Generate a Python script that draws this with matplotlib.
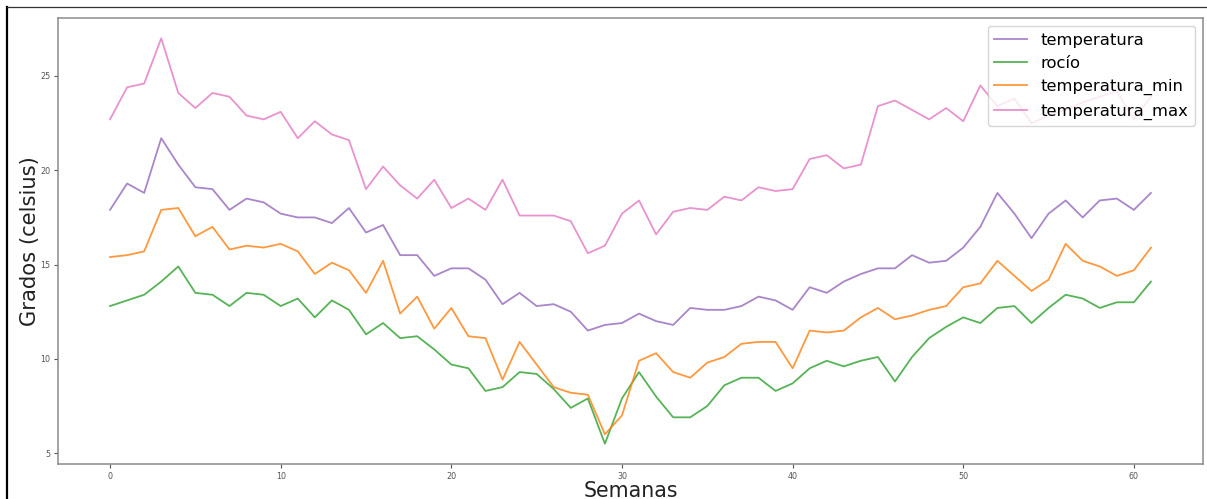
import matplotlib
matplotlib.use("Agg")
import matplotlib.pyplot as plt
from matplotlib.lines import Line2D

# Weekly temperature series (degrees Celsius)
semanas = list(range(62))

temperatura = [17.9, 19.3, 18.8, 21.7, 20.3, 19.1, 19.0, 17.9, 18.5, 18.3,
               17.7, 17.5, 17.5, 17.2, 18.0, 16.7, 17.1, 15.5, 15.5, 14.4,
               14.8, 14.8, 14.2, 12.9, 13.5, 12.8, 12.9, 12.5, 11.5, 11.8,
               11.9, 12.4, 12.0, 11.8, 12.7, 12.6, 12.6, 12.8, 13.3, 13.1,
               12.6, 13.8, 13.5, 14.1, 14.5, 14.8, 14.8, 15.5, 15.1, 15.2,
               15.9, 17.0, 18.8, 17.7, 16.4, 17.7, 18.4, 17.5, 18.4, 18.5,
               17.9, 18.8]

rocio = [12.8, 13.1, 13.4, 14.1, 14.9, 13.5, 13.4, 12.8, 13.5, 13.4,
         12.8, 13.2, 12.2, 13.1, 12.6, 11.3, 11.9, 11.1, 11.2, 10.5,
         9.7, 9.5, 8.3, 8.5, 9.3, 9.2, 8.4, 7.4, 7.9, 5.5,
         7.9, 9.3, 8.0, 6.9, 6.9, 7.5, 8.6, 9.0, 9.0, 8.3,
         8.7, 9.5, 9.9, 9.6, 9.9, 10.1, 8.8, 10.1, 11.1, 11.7,
         12.2, 11.9, 12.7, 12.8, 11.9, 12.7, 13.4, 13.2, 12.7, 13.0,
         13.0, 14.1]

temperatura_min = [15.4, 15.5, 15.7, 17.9, 18.0, 16.5, 17.0, 15.8, 16.0, 15.9,
                   16.1, 15.7, 14.5, 15.1, 14.7, 13.5, 15.2, 12.4, 13.3, 11.6,
                   12.7, 11.2, 11.1, 8.9, 10.9, 9.7, 8.5, 8.2, 8.1, 6.0,
                   7.0, 9.9, 10.3, 9.3, 9.0, 9.8, 10.1, 10.8, 10.9, 10.9,
                   9.5, 11.5, 11.4, 11.5, 12.2, 12.7, 12.1, 12.3, 12.6, 12.8,
                   13.8, 14.0, 15.2, 14.4, 13.6, 14.2, 16.1, 15.2, 14.9, 14.4,
                   14.7, 15.9]

temperatura_max = [22.7, 24.4, 24.6, 27.0, 24.1, 23.3, 24.1, 23.9, 22.9, 22.7,
                   23.1, 21.7, 22.6, 21.9, 21.6, 19.0, 20.2, 19.2, 18.5, 19.5,
                   18.0, 18.5, 17.9, 19.5, 17.6, 17.6, 17.6, 17.3, 15.6, 16.0,
                   17.7, 18.4, 16.6, 17.8, 18.0, 17.9, 18.6, 18.4, 19.1, 18.9,
                   19.0, 20.6, 20.8, 20.1, 20.3, 23.4, 23.7, 23.2, 22.7, 23.3,
                   22.6, 24.5, 23.4, 23.8, 22.5, 22.9, 23.2, 23.6, 23.9, 24.2,
                   22.7, 23.9]

series = [
    ("temperatura", temperatura, "#9467bd"),
    ("rocío", rocio, "#2ca02c"),
    ("temperatura_min", temperatura_min, "#ff7f0e"),
    ("temperatura_max", temperatura_max, "#e377c2"),
]

fig = plt.figure(figsize=(12.07, 4.99), dpi=100)
fig.patch.set_facecolor("white")
ax = fig.add_axes([58 / 1207, 1 - 464 / 499, (1203 - 58) / 1207, (464 - 18) / 499])

for name, values, color in series:
    ax.plot(semanas, values, color=color, alpha=0.8, lw=1.3, label=name)

ax.set_xticks([0, 10, 20, 30, 40, 50, 60])
ax.set_yticks([5, 10, 15, 20, 25])
ax.tick_params(labelsize=5.8, colors="#555555", length=3, width=0.8, pad=2.5)
for sp in ax.spines.values():
    sp.set_color("#8a8a8a")
    sp.set_linewidth(1.1)

ax.set_xlabel("Semanas", fontsize=14.8, color="#222222", labelpad=0.5)
ax.set_ylabel("Grados (celsius)", fontsize=15.2, color="#222222", labelpad=0)

ax.legend(loc="upper right", fontsize=11.8)

# Outer frame lines on the left and top edges of the figure
fig.add_artist(Line2D([7 / 1207, 7 / 1207], [0, 1 - 7 / 499], transform=fig.transFigure,
                      color="black", lw=1.6))
fig.add_artist(Line2D([7 / 1207, 1], [1 - 7 / 499, 1 - 7 / 499], transform=fig.transFigure,
                      color="#333333", lw=0.9))

fig.savefig("out.png", dpi=100)
